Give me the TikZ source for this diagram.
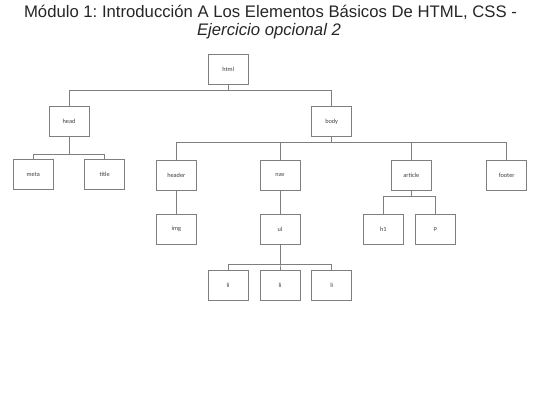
\documentclass[tikz,border=0pt]{standalone}
\usepackage{fontspec}
\setmainfont{Liberation Sans}
\newfontfamily\tagfont{Carlito}
\frenchspacing
\definecolor{linegray}{HTML}{7F7F7F}
\definecolor{taggray}{HTML}{404040}
\definecolor{titlegray}{HTML}{262626}
\begin{document}
\begin{tikzpicture}[
	x=1pt,y=-1pt,
	line join=miter,
	tag/.style={draw=linegray,line width=0.8pt,fill=white,minimum width=40pt,minimum height=30pt,inner sep=0pt,
		font=\tagfont\fontsize{6.3}{7}\selectfont,text=taggray},
	link/.style={draw=linegray,line width=0.8pt},
	heading/.style={anchor=base,inner sep=0pt,text=titlegray,font=\fontsize{16.7}{19}\selectfont}
	]
	\useasboundingbox (0,0) rectangle (540,405);
	% title
	\node[heading] (t1) at (270.5,17.5) {Módulo 1: Introducción A Los Elementos Básicos De HTML, CSS -};
	\node[heading,font=\fontsize{16.7}{19}\selectfont\itshape] (t2) at (269,35.7) {Ejercicio opcional 2};
	% tree
	\node[tag] (html) at (228.3,69.3) {html};
	\node[tag] (head) at (69,121.7) {head};
	\node[tag] (body) at (331.7,121.7) {body};
	\node[tag] (meta) at (33.3,174.7) {meta};
	\node[tag] (title) at (104.7,174.7) {title};
	\node[tag] (header) at (176.3,175) {header};
	\node[tag] (nav) at (280,175) {nav};
	\node[tag] (article) at (411.3,175) {article};
	\node[tag] (footer) at (506.7,175) {footer};
	\node[tag] (img) at (176.3,229) {img};
	\node[tag] (ul) at (280,229) {ul};
	\node[tag] (h1) at (383.3,229) {h1};
	\node[tag] (p) at (435.3,229) {p};
	\node[tag] (li1) at (228,285) {li};
	\node[tag] (li2) at (280,285) {li};
	\node[tag] (li3) at (331.7,285) {li};
	% connectors
	\begin{scope}[link]
		\foreach \kid in {head,body} \draw (html.south) -- ++(0,6) -| (\kid.north);
		\foreach \kid in {meta,title} \draw (head.south) -- ++(0,17.3) -| (\kid.north);
		\foreach \kid in {header,nav,article,footer} \draw (body.south) -- ++(0,5.6) -| (\kid.north);
		\draw (header.south) -- (img.north);
		\draw (nav.south) -- (ul.north);
		\foreach \kid in {h1,p} \draw (article.south) -- ++(0,6) -| (\kid.north);
		\foreach \kid in {li1,li2,li3} \draw (ul.south) -- ++(0,20) -| (\kid.north);
	\end{scope}
\end{tikzpicture}
\end{document}
